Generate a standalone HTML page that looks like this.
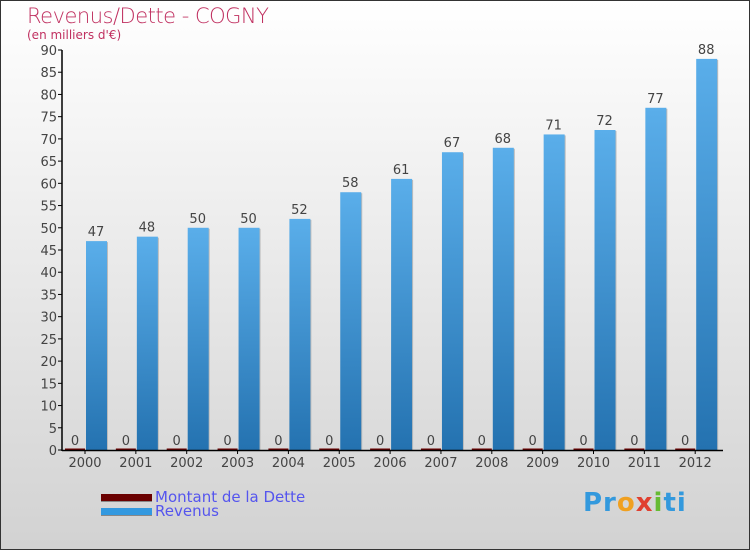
<!DOCTYPE html>
<html><head><meta charset="utf-8"><style>
body{margin:0;width:750px;height:550px;overflow:hidden}
#c{position:relative;width:748px;height:548px;border:1px solid #333;background:linear-gradient(#fff,#d2d2d2);font-family:"DejaVu Sans","Liberation Sans",sans-serif}
.t{position:absolute;color:#c03060}
</style></head><body>
<div id="c">
<div class="t" style="left:26px;top:3px;font-size:21px;font-weight:200;letter-spacing:-0.5px">Revenus/Dette - COGNY</div>
<div class="t" style="left:26px;top:27px;font-size:12px">(en milliers d'€)</div>
<svg id="s" width="748" height="548" style="position:absolute;left:0;top:0"></svg>
<div style="position:absolute;left:100px;top:487px;font-size:15px;color:#5555ee"><span style="display:inline-block;width:51px;height:7px;background:#6a0000;border-bottom:1px solid #888;margin-right:3px;vertical-align:middle"></span>Montant de la Dette</div>
<div style="position:absolute;left:100px;top:501px;font-size:15px;color:#5555ee"><span style="display:inline-block;width:51px;height:7px;background:#3399e0;border-bottom:1px solid #888;margin-right:3px;vertical-align:middle"></span>Revenus</div>
<div style="position:absolute;left:582px;top:487px;font-size:26px;font-weight:bold;letter-spacing:1px"><span style="color:#3399dd">Pr</span><span style="color:#f0a020">o</span><span style="color:#e04030">x</span><span style="color:#66bb33">i</span><span style="color:#3399dd">ti</span></div>
</div>
<script>
const years=["2000","2001","2002","2003","2004","2005","2006","2007","2008","2009","2010","2011","2012"];
const dette=[0,0,0,0,0,0,0,0,0,0,0,0,0];
const revenus=[47,48,50,50,52,58,61,67,68,71,72,77,88];
const yTicks=[0,5,10,15,20,25,30,35,40,45,50,55,60,65,70,75,80,85,90];
const NS="http://www.w3.org/2000/svg",s=document.getElementById('s');
const y=v=>449-v*400/90, xc=i=>84+50.85*i;
function mk(t,a,p){const e=document.createElementNS(NS,t);for(const k in a)e.setAttribute(k,a[k]);(p||s).appendChild(e);return e;}
const defs=mk('defs',{});const g=mk('linearGradient',{id:'g',x1:0,y1:0,x2:0,y2:1},defs);
mk('stop',{offset:0,'stop-color':'#5aaeea'},g);mk('stop',{offset:1,'stop-color':'#2472b0'},g);
yTicks.forEach(v=>{mk('line',{x1:57,x2:61,y1:y(v),y2:y(v),stroke:'#000'});
const t=mk('text',{x:56,y:y(v)+5,'text-anchor':'end','font-size':13,fill:'#444'});t.textContent=v;
});
years.forEach((yr,i)=>{const c=xc(i);
const d=mk('rect',{x:c-20,y:y(dette[i])-1.5,width:20,height:Math.max(1.5,449-y(dette[i])+1.5),fill:'#6a0000'});

const l0=mk('text',{x:c-10,y:y(dette[i])-5,'text-anchor':'middle','font-size':13,fill:'#444'});l0.textContent=dette[i];

mk('rect',{x:c+2,y:y(revenus[i])+1,width:21,height:449-y(revenus[i]),fill:'#bbb'});
const r=mk('rect',{x:c+1,y:y(revenus[i]),width:21,height:449-y(revenus[i]),fill:'url(#g)'});

const l=mk('text',{x:c+11,y:y(revenus[i])-5,'text-anchor':'middle','font-size':13,fill:'#444'});l.textContent=revenus[i];

mk('line',{x1:c,x2:c,y1:449,y2:453,stroke:'#000'});
const xt=mk('text',{x:c,y:466,'text-anchor':'middle','font-size':13,fill:'#444'});xt.textContent=yr;
});
mk('line',{x1:61,x2:61,y1:y(90),y2:450,stroke:'#000','stroke-width':1.5});
mk('line',{x1:61,x2:722,y1:449.5,y2:449.5,stroke:'#000','stroke-width':1.5});
</script>
</body></html>
